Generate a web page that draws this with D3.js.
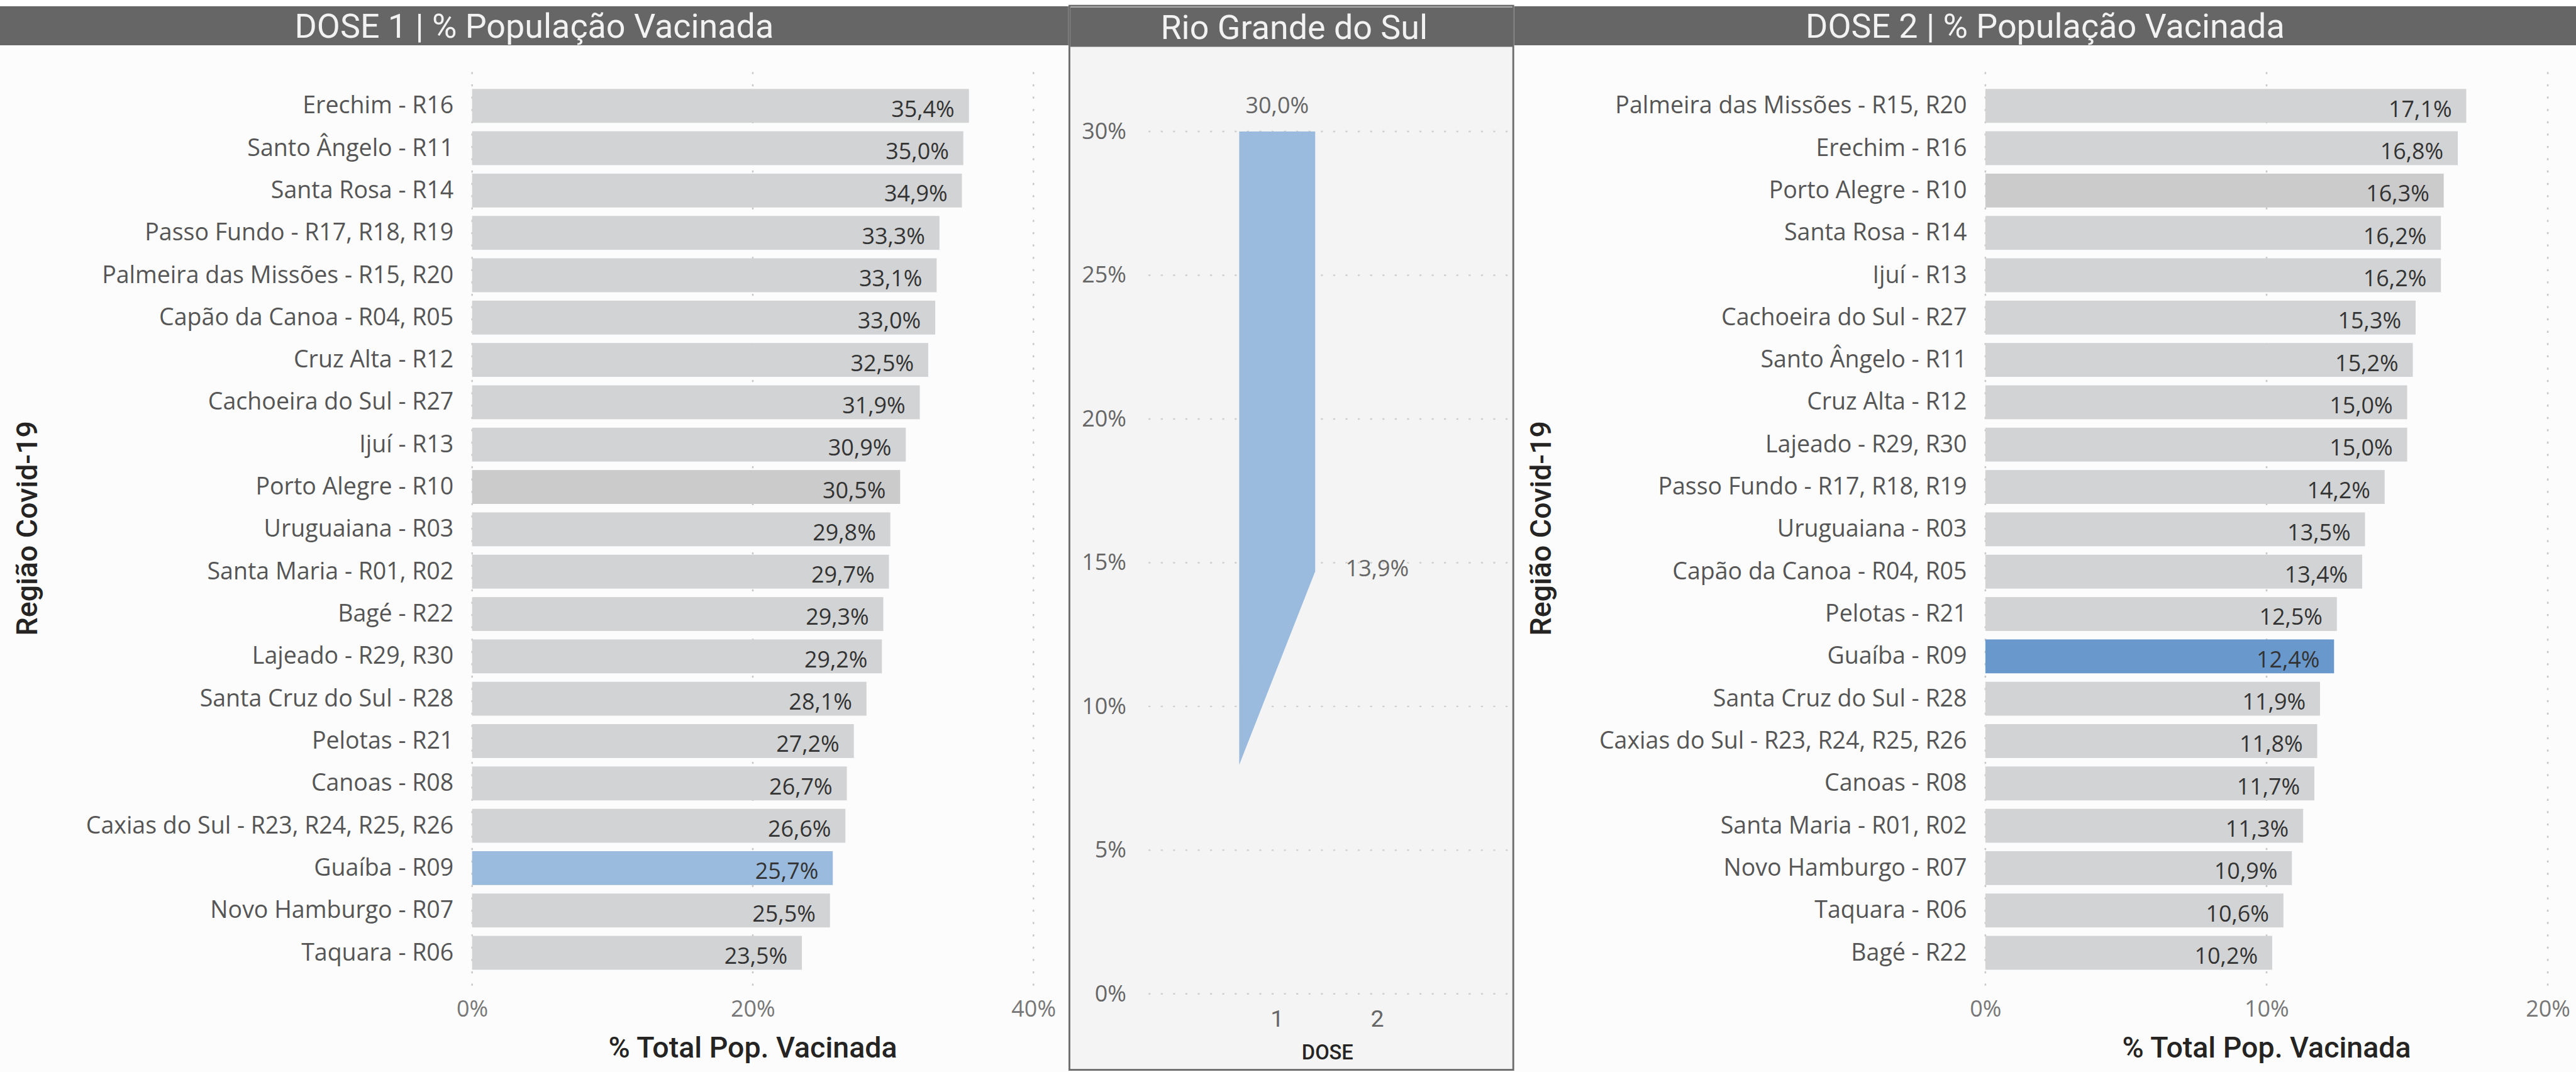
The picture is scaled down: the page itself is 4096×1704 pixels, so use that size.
<!DOCTYPE html>
<html>
<head>
<meta charset="utf-8">
<script src="https://cdn.jsdelivr.net/npm/d3@7"></script>
<style>
  html, body { margin: 0; padding: 0; background: #ffffff; }
  svg { display: block; }
</style>
</head>
<body>
<svg id="chart"></svg>
<script>
// ---------------- DATA ----------------
const dose1Regions = [
  "Erechim - R16", "Santo Ângelo - R11", "Santa Rosa - R14", "Passo Fundo - R17, R18, R19",
  "Palmeira das Missões - R15, R20", "Capão da Canoa - R04, R05", "Cruz Alta - R12",
  "Cachoeira do Sul - R27", "Ijuí - R13", "Porto Alegre - R10", "Uruguaiana - R03",
  "Santa Maria - R01, R02", "Bagé - R22", "Lajeado - R29, R30", "Santa Cruz do Sul - R28",
  "Pelotas - R21", "Canoas - R08", "Caxias do Sul - R23, R24, R25, R26", "Guaíba - R09",
  "Novo Hamburgo - R07", "Taquara - R06"
];
const dose1Values = [35.4, 35.0, 34.9, 33.3, 33.1, 33.0, 32.5, 31.9, 30.9, 30.5, 29.8,
  29.7, 29.3, 29.2, 28.1, 27.2, 26.7, 26.6, 25.7, 25.5, 23.5];

const dose2Regions = [
  "Palmeira das Missões - R15, R20", "Erechim - R16", "Porto Alegre - R10", "Santa Rosa - R14",
  "Ijuí - R13", "Cachoeira do Sul - R27", "Santo Ângelo - R11", "Cruz Alta - R12",
  "Lajeado - R29, R30", "Passo Fundo - R17, R18, R19", "Uruguaiana - R03",
  "Capão da Canoa - R04, R05", "Pelotas - R21", "Guaíba - R09", "Santa Cruz do Sul - R28",
  "Caxias do Sul - R23, R24, R25, R26", "Canoas - R08", "Santa Maria - R01, R02",
  "Novo Hamburgo - R07", "Taquara - R06", "Bagé - R22"
];
const dose2Values = [17.1, 16.8, 16.3, 16.2, 16.2, 15.3, 15.2, 15.0, 15.0, 14.2, 13.5,
  13.4, 12.5, 12.4, 11.9, 11.8, 11.7, 11.3, 10.9, 10.6, 10.2];

const dose1Ticks = [0, 20, 40];
const dose2Ticks = [0, 10, 20];

const rsDoses = ["1", "2"];
const rsValues = [30.0, 13.9];
// lower edge of the drawn shape (left / right side of dose 1 band)
const rsShapeBottom = [7.97, 14.7];
const rsTicks = [0, 5, 10, 15, 20, 25, 30];

const titleLeft = "DOSE 1 | % População Vacinada";
const titleCenter = "Rio Grande do Sul";
const titleRight = "DOSE 2 | % População Vacinada";
const xTitle = "% Total Pop. Vacinada";
const yTitle = "Região Covid-19";
const centerXTitle = "DOSE";
const highlightRegion = "Guaíba - R09";
const capitalRegion = "Porto Alegre - R10";

// ---------------- SETUP ----------------
const W = 5020, H = 2088;
const svg = d3.select("#chart")
  .attr("width", 4096).attr("height", 1704)
  .attr("viewBox", `0 0 ${W} ${H}`);

const fmt = v => d3.format(".1f")(v).replace(".", ",") + "%";
const fmtTick = v => v + "%";
const bodyFont = "'Open Sans', 'Noto Sans', sans-serif";
const dinFont = "Roboto, 'DejaVu Sans', sans-serif";

svg.append("rect").attr("x", 0).attr("y", 0).attr("width", W).attr("height", H).attr("fill", "#ffffff");
// panel backgrounds
svg.append("rect").attr("x", 0).attr("y", 88).attr("width", 2082).attr("height", H - 88).attr("fill", "#fcfcfc");
svg.append("rect").attr("x", 2950).attr("y", 88).attr("width", W - 2950).attr("height", H - 88).attr("fill", "#fcfcfc");

// headers
function header(x0, x1, y0, y1, text) {
  svg.append("rect").attr("x", x0).attr("y", y0).attr("width", x1 - x0).attr("height", y1 - y0).attr("fill", "#666666");
  svg.append("text").attr("x", (x0 + x1) / 2).attr("y", (y0 + y1) / 2)
    .attr("text-anchor", "middle").attr("dy", "0.36em")
    .attr("font-family", dinFont).attr("font-size", 66).attr("fill", "#f2f2f2")
    .text(text);
}
header(0, 2082, 12, 88, titleLeft);
header(2951, W, 12, 88, titleRight);

// ---------------- BAR PANELS ----------------
function barPanel(regions, values, maxV, ticks, x0, x1, labelX, yTitleX, highlightColor) {
  const data = regions.map((r, i) => ({ r, v: values[i] }));
  const x = d3.scaleLinear().domain([0, maxV]).range([x0, x1]);
  const y = d3.scaleBand().domain(regions).range([164.75, 1897.25]).paddingInner(0.2).paddingOuter(0.1);
  const g = svg.append("g");

  // dotted vertical gridlines
  g.selectAll("line.grid").data(ticks).join("line")
    .attr("x1", d => x(d)).attr("x2", d => x(d))
    .attr("y1", 140).attr("y2", 1922)
    .attr("stroke", "#c8c8c8").attr("stroke-width", 3).attr("stroke-dasharray", "4 20");

  // bars
  g.selectAll("rect.bar").data(data).join("rect")
    .attr("x", x(0)).attr("y", d => y(d.r))
    .attr("width", d => x(d.v) - x(0)).attr("height", y.bandwidth())
    .attr("fill", d => d.r === highlightRegion ? highlightColor : (d.r === capitalRegion ? "#cbcbcb" : "#d2d3d5"));

  // value labels
  g.selectAll("text.val").data(data).join("text")
    .attr("x", d => x(d.v) - 28).attr("y", d => y(d.r) + y.bandwidth() / 2 + 6)
    .attr("text-anchor", "end").attr("dy", "0.35em")
    .attr("font-family", bodyFont).attr("font-size", 44).attr("fill", "#333333")
    .text(d => fmt(d.v));

  // category axis
  const yAxis = d3.axisLeft(y).tickSize(0).tickPadding(0);
  const ya = g.append("g").attr("transform", `translate(${labelX},0)`).call(yAxis);
  ya.select(".domain").remove();
  ya.selectAll("text").attr("font-family", bodyFont).attr("font-size", 46).attr("fill", "#555555");

  // value axis
  const xAxis = d3.axisBottom(x).tickValues(ticks).tickFormat(fmtTick).tickSize(0).tickPadding(0);
  const xa = g.append("g").attr("transform", `translate(0,1965)`).call(xAxis);
  xa.select(".domain").remove();
  xa.selectAll("text").attr("dy", "0.35em").attr("font-family", bodyFont).attr("font-size", 44).attr("fill", "#777777");

  // axis titles
  g.append("text").attr("x", (x0 + x1) / 2).attr("y", 2040).attr("dy", "0.36em")
    .attr("text-anchor", "middle").attr("font-family", dinFont).attr("font-size", 57).attr("font-weight", 500)
    .attr("fill", "#252423").text(xTitle);
  g.append("text").attr("transform", `translate(${yTitleX},1029) rotate(-90)`).attr("dy", "0.36em")
    .attr("text-anchor", "middle").attr("font-family", dinFont).attr("font-size", 57).attr("font-weight", 500)
    .attr("fill", "#252423").text(yTitle);
}

barPanel(dose1Regions, dose1Values, 40, dose1Ticks, 920, 2014, 884, 52, "#9abbdd");
barPanel(dose2Regions, dose2Values, 20, dose2Ticks, 3869, 4965, 3833, 3002, "#6998cc");

// ---------------- CENTER PANEL ----------------
const cg = svg.append("g");
cg.append("rect").attr("x", 2084).attr("y", 11).attr("width", 865).attr("height", 2073)
  .attr("fill", "#f4f4f4").attr("stroke", "#6b6b6b").attr("stroke-width", 3.5);
cg.append("rect").attr("x", 2086).attr("y", 14).attr("width", 862).attr("height", 77).attr("fill", "#666666");
cg.append("text").attr("x", 2522).attr("y", 52.5).attr("dy", "0.36em").attr("text-anchor", "middle")
  .attr("font-family", dinFont).attr("font-size", 66).attr("fill", "#f2f2f2").text(titleCenter);

const cy = d3.scaleLinear().domain([0, 30]).range([1936, 256]);
const cx = d3.scaleBand().domain(rsDoses).range([2391.5, 2781.5]).paddingInner(0.241).paddingOuter(0.12);

cg.selectAll("line.grid").data(rsTicks).join("line")
  .attr("x1", 2238).attr("x2", 2938)
  .attr("y1", d => cy(d)).attr("y2", d => cy(d))
  .attr("stroke", "#cfcfcf").attr("stroke-width", 3).attr("stroke-dasharray", "4 20");

const cyAxis = d3.axisLeft(cy).tickValues(rsTicks).tickFormat(fmtTick).tickSize(0).tickPadding(0);
const cya = cg.append("g").attr("transform", "translate(2195,0)").call(cyAxis);
cya.select(".domain").remove();
cya.selectAll("text").attr("font-family", bodyFont).attr("font-size", 44).attr("fill", "#666666");

// shape for dose 1
const bx0 = cx(rsDoses[0]), bx1 = cx(rsDoses[0]) + cx.bandwidth();
const shapePts = [
  { x: bx0, lo: rsShapeBottom[0], hi: rsValues[0] },
  { x: bx1, lo: rsShapeBottom[1], hi: rsValues[0] }
];
const area = d3.area().x(d => d.x).y0(d => cy(d.lo)).y1(d => cy(d.hi));
cg.append("path").attr("d", area(shapePts)).attr("fill", "#9abbdd");

// data labels
cg.append("text").attr("x", cx(rsDoses[0]) + cx.bandwidth() / 2).attr("y", cy(rsValues[0]) - 51)
  .attr("dy", "0.35em").attr("text-anchor", "middle")
  .attr("font-family", bodyFont).attr("font-size", 44).attr("fill", "#666666").text(fmt(rsValues[0]));
cg.append("text").attr("x", cx(rsDoses[1]) + cx.bandwidth() / 2).attr("y", cy(rsShapeBottom[1]) - 6)
  .attr("dy", "0.35em").attr("text-anchor", "middle")
  .attr("font-family", bodyFont).attr("font-size", 44).attr("fill", "#666666").text(fmt(rsValues[1]));

const cxAxis = d3.axisBottom(cx).tickSize(0).tickPadding(0);
const cxa = cg.append("g").attr("transform", "translate(0,1983)").call(cxAxis);
cxa.select(".domain").remove();
cxa.selectAll("text").attr("dy", "0.36em").attr("font-family", dinFont).attr("font-size", 46).attr("fill", "#666666");

cg.append("text").attr("x", 2587).attr("y", 2049).attr("dy", "0.36em").attr("text-anchor", "middle")
  .attr("font-family", dinFont).attr("font-size", 40).attr("font-weight", 500).attr("fill", "#252423")
  .text(centerXTitle);
</script>
</body>
</html>
